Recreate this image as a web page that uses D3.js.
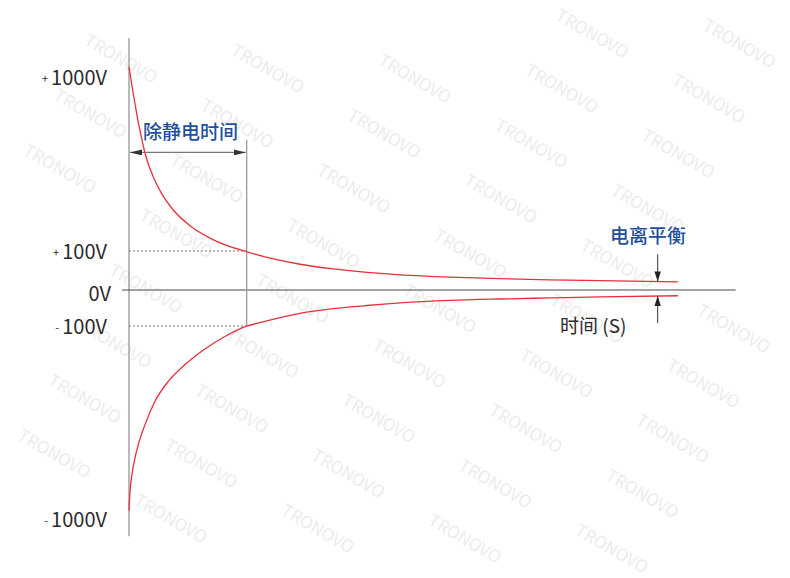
<!DOCTYPE html>
<html><head><meta charset="utf-8">
<script src="https://cdn.jsdelivr.net/npm/d3@7/dist/d3.min.js"></script>
<style>body{margin:0;background:#fff;} svg{display:block}</style>
</head><body><svg id="c" width="790" height="578"></svg>
<script>
// ---- data ----
const tickValues = [1000, 100, 0, -100, -1000];
const tickSigns  = ["+", "+", "", "-", "-"];
const tickTexts  = ["1000V", "100V", "0V", "100V", "1000V"];
const timeUpper = [0, 0.33, 0.71, 1.24, 1.82, 2.64, 4.01, 5.28, 7.31, 10.35, 14.19, 19.42, 22.44, 28.22, 33.66, 39.27, 44.72, 52.97, 61.22, 69.47, 77.72, 90.59];
const voltUpper = [1053, 987, 912, 816, 721, 607, 483, 403, 312, 224, 154, 98, 85, 66, 54, 45, 39, 33, 29, 26, 24, 21];
const timeLower = [0, 0.08, 0.25, 0.5, 0.91, 1.53, 2.64, 4.29, 6.49, 9.24, 12.54, 15.84, 19.42, 22.44, 28.22, 33.66, 39.27, 44.72, 52.97, 61.22, 69.47, 77.72, 90.59];
const voltLower = [-961, -911, -846, -790, -725, -654, -560, -451, -358, -280, -207, -149, -101, -87, -65, -52, -43, -36, -29, -25, -22, -19, -16];
const dischargeTime = 19.42;
const dischargeVolt = 100;
const balanceTime = 87.24;
const labelDischarge = "除静电时间";
const labelBalance = "电离平衡";
const labelTime = "时间 (S)";
const watermark = "TRONOVO";

// ---- setup ----
const svg = d3.select("#c");
const FONT = "'Noto Sans CJK SC','Noto Sans',sans-serif";
const x = d3.scaleLinear().domain([0, 100]).range([129, 735]);
const y = d3.scaleLinear().domain([-1000, -100, 0, 100, 1000]).range([519, 326, 290, 251, 77]);

const defs = svg.append("defs");
function marker(id, len, half, color) {
  defs.append("marker").attr("id", id)
    .attr("viewBox", `0 ${-half} ${len} ${2*half}`)
    .attr("refX", len).attr("refY", 0)
    .attr("markerUnits", "userSpaceOnUse")
    .attr("markerWidth", len).attr("markerHeight", 2*half)
    .attr("orient", "auto-start-reverse")
    .append("path").attr("d", `M0,${-half}L${len},0L0,${half}Z`).attr("fill", color);
}
marker("arrH", 12, 3, "#333");
marker("arrV", 10, 3.2, "#222");

// ---- watermark (only copies fully inside the picture) ----
const wm = svg.append("g");
for (let i = -2; i <= 7; i++) {
  for (let j = -3; j <= 12; j++) {
    const cx = 120 + i * 147 - j * 30.5, cy = 60 + i * 10 + j * 55;
    if (cx < 40 || cx > 750 || cy < 28 || cy > 550) continue;
    wm.append("text").attr("transform", `translate(${cx},${cy}) rotate(30)`)
      .attr("text-anchor", "middle").attr("dominant-baseline", "middle")
      .attr("font-family", FONT).attr("font-size", 17)
      .attr("fill", "#ececec").text(watermark);
  }
}

// ---- axes ----
svg.append("line").attr("x1", x(0)).attr("x2", x(0))
  .attr("y1", y(1200)).attr("y2", y(-1080))
  .attr("stroke", "#a9a9a9").attr("stroke-width", 1.6);
svg.append("line").attr("x1", x(-1.15)).attr("x2", x(100.1))
  .attr("y1", y(0)).attr("y2", y(0))
  .attr("stroke", "#4a4a4a").attr("stroke-width", 1.2);

const yAxis = d3.axisLeft(y).tickValues(tickValues).tickSize(0).tickPadding(22).tickFormat(() => "");
const ga = svg.append("g").attr("transform", `translate(${x(0)},0)`).call(yAxis);
ga.select(".domain").remove();
ga.selectAll(".tick text").each(function(d, i) {
  const t = d3.select(this).attr("y", 7).attr("font-family", FONT).attr("fill", "#2b2b2b");
  t.text(null);
  if (tickSigns[i]) {
    t.append("tspan").attr("font-size", 11).attr("dy", -2).text(tickSigns[i]);
    t.append("tspan").attr("font-size", 20).attr("dx", 3).attr("dy", 2).text(tickTexts[i]);
  } else {
    t.attr("x", -18);
    t.append("tspan").attr("font-size", 20).text(tickTexts[i]);
  }
});

// ---- discharge markers ----
const xd = x(dischargeTime);
[dischargeVolt, -dischargeVolt].forEach(v => {
  svg.append("line").attr("x1", x(0)).attr("x2", xd).attr("y1", y(v)).attr("y2", y(v))
    .attr("stroke", "#777").attr("stroke-width", 1).attr("stroke-dasharray", "2,2");
});
svg.append("line").attr("x1", xd).attr("x2", xd).attr("y1", y(675)).attr("y2", y(-dischargeVolt))
  .attr("stroke", "#9a9a9a").attr("stroke-width", 1.3);
svg.append("line").attr("x1", x(0) + 1).attr("x2", xd - 1).attr("y1", y(610)).attr("y2", y(610))
  .attr("stroke", "#777").attr("stroke-width", 1.1)
  .attr("marker-start", "url(#arrH)").attr("marker-end", "url(#arrH)");
svg.append("text").attr("x", 143).attr("y", 139)
  .attr("font-family", FONT).attr("font-size", 19).attr("font-weight", 500)
  .attr("fill", "#1f4f9e").text(labelDischarge);

// ---- curves ----
const line = d3.line().x(d => x(d[0])).y(d => y(d[1])).curve(d3.curveMonotoneX);
svg.append("path").datum(d3.zip(timeUpper, voltUpper)).attr("d", line)
  .attr("fill", "none").attr("stroke", "#e8303b").attr("stroke-width", 1.3);
svg.append("path").datum(d3.zip(timeLower, voltLower)).attr("d", line)
  .attr("fill", "none").attr("stroke", "#e8303b").attr("stroke-width", 1.3);

// ---- balance arrows ----
const xb = x(balanceTime);
svg.append("line").attr("x1", xb).attr("x2", xb).attr("y1", y(92)).attr("y2", y(22))
  .attr("stroke", "#333").attr("stroke-width", 1).attr("marker-end", "url(#arrV)");
svg.append("line").attr("x1", xb).attr("x2", xb).attr("y1", y(-92)).attr("y2", y(-17))
  .attr("stroke", "#333").attr("stroke-width", 1).attr("marker-end", "url(#arrV)");
svg.append("text").attr("x", 610).attr("y", 243)
  .attr("font-family", FONT).attr("font-size", 19).attr("font-weight", 500)
  .attr("fill", "#1f4f9e").text(labelBalance);
svg.append("text").attr("x", 560).attr("y", 333)
  .attr("font-family", FONT).attr("font-size", 19)
  .attr("fill", "#2b2b2b").text(labelTime);
</script></body></html>
